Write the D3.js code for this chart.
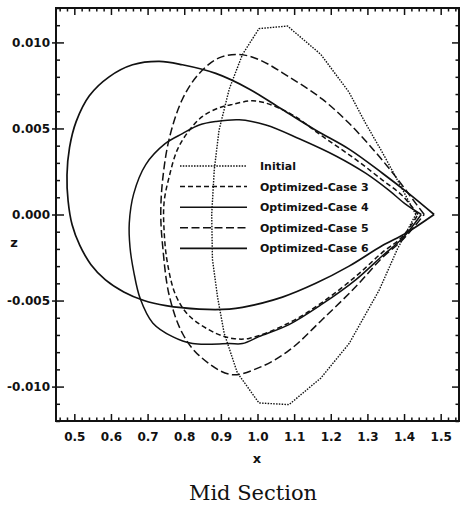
<!DOCTYPE html>
<html>
<head>
<meta charset="utf-8">
<script src="https://cdn.jsdelivr.net/npm/d3@7"></script>
<style>
  html, body { margin: 0; padding: 0; background: #fff; }
  svg { display: block; }
  .tick text { font-family: "DejaVu Sans", sans-serif; font-weight: bold; font-size: 12px; fill: #111; }
</style>
</head>
<body>
<svg id="chart" width="460" height="510"></svg>
<script>
// ---------------- data ----------------
const seriesNames = ["Initial", "Optimized-Case 3", "Optimized-Case 4", "Optimized-Case 5", "Optimized-Case 6"];

const initialX = [1.432, 1.382, 1.341, 1.295, 1.250, 1.173, 1.082, 1.004, 0.959, 0.923, 0.895, 0.882, 0.875, 0.877, 0.891, 0.909, 0.945, 1.004, 1.086, 1.173, 1.250, 1.332, 1.382, 1.432];
const initialZ = [0, 0.0020, 0.0036, 0.0053, 0.0071, 0.0093, 0.01095, 0.01080, 0.0093, 0.0073, 0.0049, 0.0026, 0, -0.0026, -0.0048, -0.0069, -0.0092, -0.01095, -0.01105, -0.0095, -0.0075, -0.0044, -0.0020, 0];

const case3X = [1.438, 1.395, 1.341, 1.268, 1.177, 1.086, 0.995, 0.932, 0.895, 0.850, 0.814, 0.782, 0.759, 0.745, 0.745, 0.754, 0.777, 0.814, 0.886, 0.932, 0.977, 1.086, 1.177, 1.268, 1.341, 1.395, 1.438];
const case3Z = [0, 0.0011, 0.0020, 0.0032, 0.00455, 0.0059, 0.0066, 0.0064, 0.0062, 0.0057, 0.0049, 0.0038, 0.0022, 0.0007, -0.0009, -0.0028, -0.0047, -0.0059, -0.0069, -0.0072, -0.0072, -0.0063, -0.0051, -0.0036, -0.0022, -0.0013, 0];

const case4X = [1.447, 1.404, 1.359, 1.295, 1.214, 1.114, 1.023, 0.950, 0.886, 0.841, 0.795, 0.747, 0.695, 0.662, 0.650, 0.652, 0.662, 0.680, 0.714, 0.768, 0.823, 0.923, 0.959, 1.004, 1.086, 1.177, 1.268, 1.341, 1.395, 1.447];
const case4Z = [0, 0.0006, 0.0014, 0.0024, 0.0034, 0.0044, 0.0052, 0.0055, 0.0054, 0.0052, 0.0047, 0.0041, 0.0029, 0.0012, -0.0005, -0.0019, -0.0033, -0.0049, -0.0063, -0.0071, -0.0075, -0.0075, -0.0075, -0.0071, -0.0064, -0.0052, -0.0038, -0.0024, -0.0014, 0];

const case5X = [1.455, 1.423, 1.377, 1.323, 1.250, 1.177, 1.086, 1.004, 0.950, 0.895, 0.841, 0.795, 0.759, 0.741, 0.736, 0.741, 0.759, 0.795, 0.841, 0.927, 1.004, 1.086, 1.177, 1.268, 1.341, 1.395, 1.455];
const case5Z = [0, 0.0009, 0.0022, 0.0036, 0.0053, 0.0067, 0.0080, 0.0090, 0.0093, 0.0091, 0.0082, 0.0067, 0.0044, 0.0020, 0, -0.0018, -0.0047, -0.0069, -0.0082, -0.0093, -0.0089, -0.0079, -0.0061, -0.0042, -0.0025, -0.0015, 0];

const case6X = [1.482, 1.414, 1.341, 1.250, 1.159, 1.068, 0.977, 0.886, 0.795, 0.732, 0.659, 0.595, 0.541, 0.505, 0.487, 0.480, 0.483, 0.494, 0.515, 0.545, 0.585, 0.635, 0.690, 0.750, 0.841, 0.923, 0.959, 1.068, 1.159, 1.250, 1.341, 1.404, 1.482];
const case6Z = [0, 0.0012, 0.0024, 0.0038, 0.0049, 0.0061, 0.0073, 0.0082, 0.0087, 0.0089, 0.0087, 0.0080, 0.0069, 0.0054, 0.0039, 0.0023, 0.0008, -0.0006, -0.0018, -0.0029, -0.0038, -0.0045, -0.0050, -0.0053, -0.0055, -0.0055, -0.0054, -0.0048, -0.0040, -0.0030, -0.0018, -0.0011, 0];

const xTicks = [0.5, 0.6, 0.7, 0.8, 0.9, 1.0, 1.1, 1.2, 1.3, 1.4, 1.5];
const yTicks = [-0.010, -0.005, 0.000, 0.005, 0.010];
const xDomain = [0.45, 1.55];
const yDomain = [-0.012, 0.012];

// ---------------- layout ----------------
const L = 56, R = 459, T = 8, B = 421;
const svg = d3.select("#chart");
const x = d3.scaleLinear().domain(xDomain).range([L, R]);
const y = d3.scaleLinear().domain(yDomain).range([B, T]);

const xMinor = d3.range(46, 155, 2).map(v => v / 100).filter(v => !xTicks.some(t => Math.abs(t - v) < 1e-9));
const yMinor = d3.range(-12, 13, 1).map(v => v / 1000).filter(v => !yTicks.some(t => Math.abs(t - v) < 1e-9));

const series = [
  { name: seriesNames[0], xs: initialX, zs: initialZ, dash: "1.5,1.3", w: 1.4, curve: d3.curveLinear },
  { name: seriesNames[1], xs: case3X, zs: case3Z, dash: "5,3", w: 1.5, curve: d3.curveCatmullRom },
  { name: seriesNames[2], xs: case4X, zs: case4Z, dash: null, w: 1.5, curve: d3.curveCatmullRom },
  { name: seriesNames[3], xs: case5X, zs: case5Z, dash: "8,3.5", w: 1.5, curve: d3.curveCatmullRom },
  { name: seriesNames[4], xs: case6X, zs: case6Z, dash: null, w: 1.7, curve: d3.curveCatmullRom }
];

// curves
const g = svg.append("g");
series.forEach(s => {
  const pts = s.xs.map((v, i) => [v, s.zs[i]]);
  const line = d3.line().x(d => x(d[0])).y(d => y(d[1])).curve(s.curve);
  g.append("path")
    .attr("d", line(pts))
    .attr("fill", "none")
    .attr("stroke", "#111")
    .attr("stroke-width", s.w)
    .attr("stroke-dasharray", s.dash);
});

// axes
function styleAxis(sel) {
  sel.select(".domain").remove();
  sel.selectAll(".tick line").attr("stroke", "#111").attr("stroke-width", 1.5);
}
// bottom
svg.append("g").attr("transform", `translate(0,${B})`)
  .call(d3.axisBottom(x).tickValues(xTicks).tickSize(-7).tickPadding(11).tickFormat(d => d.toFixed(1)))
  .call(styleAxis);
svg.append("g").attr("transform", `translate(0,${B})`)
  .call(d3.axisBottom(x).tickValues(xMinor).tickSize(-3.5).tickFormat(""))
  .call(styleAxis);
// top
svg.append("g").attr("transform", `translate(0,${T})`)
  .call(d3.axisTop(x).tickValues(xTicks).tickSize(-7).tickFormat(""))
  .call(styleAxis);
svg.append("g").attr("transform", `translate(0,${T})`)
  .call(d3.axisTop(x).tickValues(xMinor).tickSize(-3.5).tickFormat(""))
  .call(styleAxis);
// left
const leftAx = svg.append("g").attr("transform", `translate(${L},0)`)
  .call(d3.axisLeft(y).tickValues(yTicks).tickSize(-8).tickPadding(6).tickFormat(d => d.toFixed(3)))
  .call(styleAxis);
leftAx.selectAll(".tick line").attr("x1", -4);
svg.append("g").attr("transform", `translate(${L},0)`)
  .call(d3.axisLeft(y).tickValues(yMinor).tickSize(-4).tickFormat(""))
  .call(styleAxis);
// right
svg.append("g").attr("transform", `translate(${R},0)`)
  .call(d3.axisRight(y).tickValues(yTicks).tickSize(-7).tickFormat(""))
  .call(styleAxis);
svg.append("g").attr("transform", `translate(${R},0)`)
  .call(d3.axisRight(y).tickValues(yMinor).tickSize(-3.5).tickFormat(""))
  .call(styleAxis);

// frame
svg.append("rect").attr("x", L).attr("y", T).attr("width", R - L).attr("height", B - T)
  .attr("fill", "none").attr("stroke", "#111").attr("stroke-width", 2);

// legend
const legY0 = 166, legDY = 20.6;
const leg = svg.append("g");
series.forEach((s, i) => {
  const yy = legY0 + i * legDY;
  leg.append("line").attr("x1", 180).attr("x2", 247).attr("y1", yy).attr("y2", yy)
    .attr("stroke", "#111").attr("stroke-width", s.w).attr("stroke-dasharray", s.dash);
  leg.append("text").attr("x", 260).attr("y", yy + 4)
    .attr("font-family", "DejaVu Sans, sans-serif").attr("font-weight", "bold")
    .attr("font-size", 11).attr("fill", "#111").text(s.name);
});

// axis titles
svg.append("text").attr("x", 257).attr("y", 463).attr("text-anchor", "middle")
  .attr("font-family", "DejaVu Sans, sans-serif").attr("font-weight", "bold").attr("font-size", 13)
  .attr("fill", "#111").text("x");
svg.append("text").attr("x", 14).attr("y", 247).attr("text-anchor", "middle")
  .attr("font-family", "DejaVu Sans, sans-serif").attr("font-weight", "bold").attr("font-size", 13)
  .attr("fill", "#111").text("z");

// caption
svg.append("text").attr("x", 253).attr("y", 500).attr("text-anchor", "middle")
  .attr("font-family", "DejaVu Serif, serif").attr("font-size", 21)
  .attr("fill", "#111").text("Mid Section");
</script>
</body>
</html>
